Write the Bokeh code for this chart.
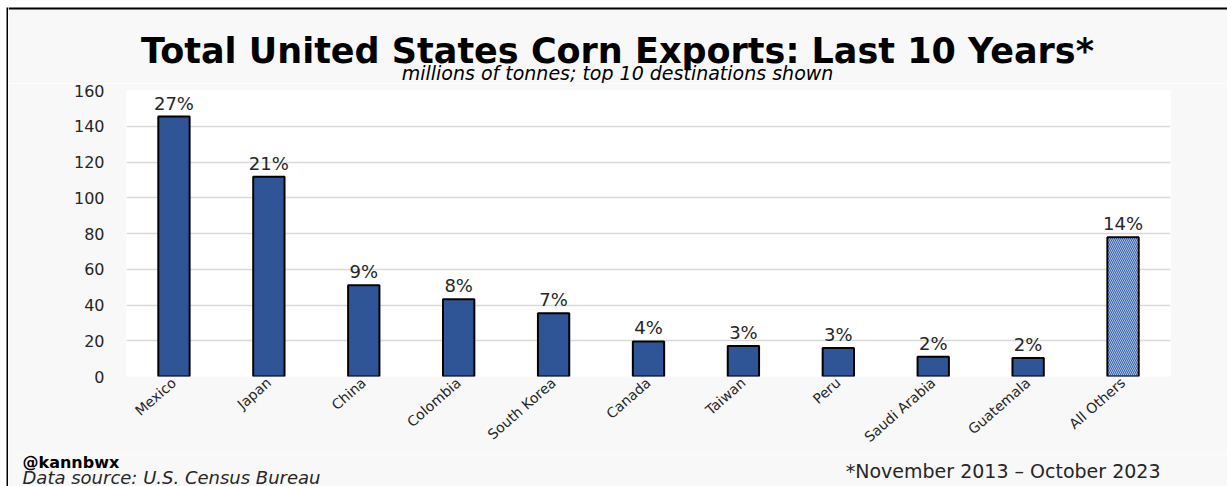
from math import pi
from bokeh.plotting import figure
from bokeh.layouts import row, column
from bokeh.models import (ColumnDataSource, FixedTicker, Label, Range1d, FactorRange,
                          BoxAnnotation)
from bokeh.core.properties import value
from bokeh.embed import file_html
from bokeh.resources import INLINE

countries = ["Mexico", "Japan", "China", "Colombia", "South Korea", "Canada",
             "Taiwan", "Peru", "Saudi Arabia", "Guatemala", "All Others"]
exports = [145.4, 111.8, 51.0, 43.2, 35.4, 19.6, 17.1, 16.0, 11.0, 10.4, 77.9]
shares = ["27%", "21%", "9%", "8%", "7%", "4%", "3%", "3%", "2%", "2%", "14%"]
y_ticks = [0, 20, 40, 60, 80, 100, 120, 140, 160]

title_text = "Total United States Corn Exports: Last 10 Years*"
subtitle_text = "millions of tonnes; top 10 destinations shown"
handle_text = "@kannbwx"
source_text = "Data source: U.S. Census Bureau"
period_text = "*November 2013 \u2013 October 2023"

FONT = "DejaVu Sans"
TXT = "#262626"
BG = "#f8f8f8"

PAGE_W, PAGE_H = 1227, 486
STRIP = 8            # white margin + black border on the left
HEAD_H = 83          # page rows 0..83
MAIN_BOTTOM = 454    # page row where the chart canvas ends
W = PAGE_W - STRIP
BASE_SHIFT = 0.34    # svg label baseline correction (fraction of font size)


def blank(width, height, x0, x1, y0, y1, bg):
    f = figure(width=width, height=height, x_range=Range1d(x0, x1), y_range=Range1d(y1, y0),
               x_axis_type=None, y_axis_type=None, output_backend="svg",
               toolbar_location=None, min_border=0, frame_align=False)
    f.grid.visible = False
    f.outline_line_color = None
    f.background_fill_color = bg
    f.border_fill_color = bg
    return f


def text_at(fig, txt, x, baseline, size, style="normal", align="left", color="black"):
    fig.add_layout(Label(x=x, y=baseline - BASE_SHIFT * size, text=txt, text_font=FONT,
                         text_font_size=f"{size}px", text_font_style=style,
                         text_align=align, text_baseline="alphabetic", text_color=color))


# ---- left strip: white margin and black frame line
strip = blank(STRIP, PAGE_H, 0, STRIP, 0, PAGE_H, "white")
strip.add_layout(BoxAnnotation(left=6, right=8, top=7, bottom=PAGE_H, fill_color="black",
                               fill_alpha=1, line_color=None))

# ---- header: title and subtitle (page coordinates)
head = blank(W, HEAD_H, STRIP, PAGE_W, 0, HEAD_H, BG)
head.add_layout(BoxAnnotation(top=0, bottom=7, fill_color="white", fill_alpha=1, line_color=None))
head.add_layout(BoxAnnotation(top=7, bottom=9, fill_color="black", fill_alpha=1, line_color=None))
text_at(head, title_text, 617, 62, 35, "bold", "center")
text_at(head, subtitle_text, 617, 79, 19, "italic", "center")

# ---- main chart
FRAME_TOP, FRAME_BOTTOM, FRAME_LEFT, FRAME_RIGHT = 90, 377, 126, 1170
p = figure(width=W, height=MAIN_BOTTOM - HEAD_H,
           x_range=FactorRange(*countries, range_padding=0), y_range=Range1d(0, 160),
           output_backend="svg", toolbar_location=None, frame_align=False,
           min_border_left=FRAME_LEFT - STRIP, min_border_right=PAGE_W - FRAME_RIGHT,
           min_border_top=FRAME_TOP - HEAD_H, min_border_bottom=MAIN_BOTTOM - FRAME_BOTTOM)
p.border_fill_color = BG
p.background_fill_color = "white"
p.outline_line_color = None

top10 = ColumnDataSource(dict(x=countries[:-1], top=exports[:-1]))
others = ColumnDataSource(dict(x=countries[-1:], top=exports[-1:]))

p.vbar(x="x", top="top", width=0.33, source=top10, fill_color="#2f5597",
       line_color="black", line_width=2)
p.vbar(x="x", top="top", width=0.33, source=others, fill_color="#3763ad",
       line_color="black", line_width=2, hatch_pattern="\\", hatch_color="white",
       hatch_scale=4, hatch_weight=1, hatch_alpha=0.6)

allsrc = ColumnDataSource(dict(x=countries, top=exports, lab=shares))
p.text(x="x", y="top", text="lab", source=allsrc, text_align="center",
       text_baseline="bottom", y_offset=-3, text_font=value(FONT),
       text_font_size=value("18px"), text_color=TXT)

for ax in (p.xaxis, p.yaxis):
    ax.axis_line_color = None
    ax.major_tick_line_color = None
    ax.minor_tick_line_color = None
    ax.major_tick_out = 0
    ax.major_tick_in = 0
    ax.minor_tick_out = 0
    ax.minor_tick_in = 0
    ax.axis_label_standoff = 0
    ax.major_label_text_font = FONT
    ax.major_label_text_color = TXT

p.yaxis.ticker = FixedTicker(ticks=y_ticks)
p.yaxis.major_label_text_font_size = "16px"
p.yaxis.major_label_standoff = 22

p.xaxis.major_label_orientation = 0.72
p.xaxis.major_label_text_font_size = "14px"
p.xaxis.major_label_standoff = 4

p.xgrid.grid_line_color = None
p.ygrid.ticker = FixedTicker(ticks=y_ticks)
p.ygrid.grid_line_color = "#d9d9d9"
p.ygrid.grid_line_width = 1.5

# ---- footer (page coordinates)
foot = blank(W, PAGE_H - MAIN_BOTTOM, STRIP, PAGE_W, MAIN_BOTTOM, PAGE_H, BG)
text_at(foot, handle_text, 22, 467, 16, "bold")
text_at(foot, source_text, 22, 483, 18, "italic", "left", TXT)
text_at(foot, period_text, 1160, 477, 19, "normal", "right", TXT)

layout = row(strip, column(head, p, foot, spacing=0), spacing=0)
open("out.html", "w").write(file_html(layout, INLINE))
